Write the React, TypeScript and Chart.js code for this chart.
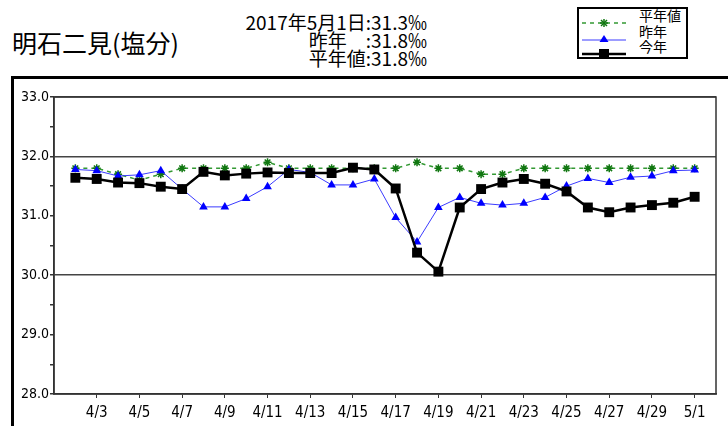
import React, { useEffect, useRef } from "react";
import { Chart, registerables } from "chart.js";

Chart.register(...registerables);

const dates = [
  "4/2", "4/3", "4/4", "4/5", "4/6", "4/7", "4/8", "4/9", "4/10", "4/11",
  "4/12", "4/13", "4/14", "4/15", "4/16", "4/17", "4/18", "4/19", "4/20", "4/21",
  "4/22", "4/23", "4/24", "4/25", "4/26", "4/27", "4/28", "4/29", "4/30", "5/1",
];
const thisYear = [
  31.64, 31.62, 31.56, 31.55, 31.49, 31.45, 31.74, 31.68, 31.71, 31.73,
  31.72, 31.72, 31.72, 31.81, 31.78, 31.46, 30.38, 30.06, 31.14, 31.45,
  31.56, 31.62, 31.54, 31.41, 31.14, 31.06, 31.14, 31.18, 31.22, 31.32,
];
const lastYear = [
  31.78, 31.76, 31.67, 31.69, 31.76, 31.45, 31.15, 31.15, 31.29, 31.49,
  31.78, 31.73, 31.52, 31.52, 31.62, 30.97, 30.56, 31.14, 31.31, 31.21,
  31.18, 31.21, 31.31, 31.5, 31.63, 31.56, 31.65, 31.67, 31.76, 31.77,
];
const normalYear = [
  31.8, 31.8, 31.7, 31.6, 31.7, 31.8, 31.8, 31.8, 31.8, 31.9,
  31.8, 31.8, 31.8, 31.8, 31.8, 31.8, 31.9, 31.8, 31.8, 31.7,
  31.7, 31.8, 31.8, 31.8, 31.8, 31.8, 31.8, 31.8, 31.8, 31.8,
];
const yTicksMajor = [28, 29, 30, 31, 32, 33];
const yGridLines = [30, 32, 33];

const TICK_FONT = "'Liberation Sans Narrow', 'DejaVu Sans Condensed', 'Liberation Sans', sans-serif";
const JP_FONT = "'Noto Sans CJK JP', sans-serif";

const frameBox = {
  id: "frameBox",
  afterDraw(chart: any) {
    const { ctx, chartArea } = chart;
    ctx.save();
    ctx.strokeStyle = "#333";
    ctx.lineWidth = 1.5;
    ctx.strokeRect(chartArea.left, chartArea.top, chartArea.right - chartArea.left, chartArea.bottom - chartArea.top);
    ctx.restore();
  },
};

function ChartCanvas() {
  const ref = useRef<HTMLCanvasElement>(null);
  useEffect(() => {
    if (!ref.current) return;
    const labels = ["", ...dates, ""];
    const pad = (a: number[]) => [null, ...a, null];
    const chart = new Chart(ref.current, {
      type: "line",
      data: {
        labels,
        datasets: [
          {
            label: "今年",
            data: pad(thisYear),
            borderColor: "#000",
            backgroundColor: "#000",
            borderWidth: 2.5,
            pointStyle: "rect",
            pointRadius: 7,
            pointBorderWidth: 0,
            pointBackgroundColor: "#000",
          },
          {
            label: "昨年",
            data: pad(lastYear),
            borderColor: "#3b3bff",
            backgroundColor: "#0000ff",
            borderWidth: 1,
            pointStyle: "triangle",
            pointRadius: 5,
            pointBorderWidth: 0,
            pointBackgroundColor: "#0000ff",
          },
          {
            label: "平年値",
            data: pad(normalYear),
            borderColor: "#339933",
            backgroundColor: "#117711",
            borderWidth: 1.5,
            borderDash: [4, 4],
            pointStyle: "star",
            pointRadius: 4,
            pointBorderWidth: 1.5,
            pointBorderColor: "#117711",
          },
        ],
      } as any,
      options: {
        animation: false,
        responsive: false,
        devicePixelRatio: 1,
        layout: { padding: { top: 97, right: 12, left: 0, bottom: 0 } },
        plugins: { legend: { display: false }, tooltip: { enabled: false } },
        scales: {
          x: {
            type: "category",
            offset: false,
            afterFit: (s: any) => { s.height = 32; },
            border: { display: true, color: "#333", width: 1.5 },
            grid: {
              drawOnChartArea: false,
              tickLength: 4,
              tickColor: (c: any) => (c.index >= 2 && c.index <= 30 && c.index % 2 === 0 ? "#333" : "rgba(0,0,0,0)"),
            },
            ticks: {
              autoSkip: false,
              maxRotation: 0,
              minRotation: 0,
              padding: 6,
              color: "#000",
              font: { family: TICK_FONT, size: 15 },
              callback: (_v: any, i: number) => (i >= 2 && i <= 30 && i % 2 === 0 ? labels[i] : ""),
            },
          },
          y: {
            min: 28,
            max: 33,
            afterFit: (s: any) => { s.width = 54; },
            border: { display: true, color: "#333", width: 1.5 },
            grid: {
              color: (c: any) => (c.tick && yGridLines.includes(c.tick.value) ? "#444" : "rgba(0,0,0,0)"),
              lineWidth: 1.5,
              tickLength: 4,
              tickColor: "#333",
            },
            ticks: {
              stepSize: 0.5,
              padding: 1,
              color: "#000",
              font: { family: TICK_FONT, size: 14 },
              callback: (v: any) => (yTicksMajor.includes(Number(v)) ? Number(v).toFixed(1) : ""),
            },
          },
        },
      } as any,
      plugins: [frameBox],
    });
    return () => chart.destroy();
  }, []);
  return <canvas ref={ref} width={728} height={426} style={{ position: "absolute", left: 0, top: 0 }} />;
}

function Sample({ kind }: { kind: string }) {
  if (kind === "normal") {
    return (
      <svg width={44} height={12}>
        <line x1={0} y1={6} x2={44} y2={6} stroke="#339933" strokeWidth={1.5} strokeDasharray="4 4" />
        <g stroke="#117711" strokeWidth={1.5}>
          <line x1={22} y1={2} x2={22} y2={10} />
          <line x1={18} y1={6} x2={26} y2={6} />
          <line x1={19} y1={3} x2={25} y2={9} />
          <line x1={19} y1={9} x2={25} y2={3} />
        </g>
      </svg>
    );
  }
  if (kind === "last") {
    return (
      <svg width={44} height={12}>
        <line x1={0} y1={7} x2={44} y2={7} stroke="#3b3bff" strokeWidth={1} />
        <polygon points="22,2 26.5,9 17.5,9" fill="#0000ff" />
      </svg>
    );
  }
  return (
    <svg width={44} height={12}>
      <line x1={0} y1={6} x2={44} y2={6} stroke="#000" strokeWidth={2.5} />
      <rect x={17} y={1} width={10} height={10} fill="#000" />
    </svg>
  );
}

export default function App() {
  const legendRows = [
    { kind: "normal", text: "平年値", y: 9 },
    { kind: "last", text: "昨年", y: 25 },
    { kind: "this", text: "今年", y: 40 },
  ];
  return (
    <div style={{ position: "absolute", left: 0, top: 0, width: 728, height: 426, background: "#fff", overflow: "hidden", fontFamily: JP_FONT }}>
      <div style={{ position: "absolute", left: 11, top: 76, width: 800, height: 400, borderLeft: "3px solid #000", borderTop: "3px solid #000" }} />
      <div style={{ position: "absolute", left: 12, top: 30, fontSize: 25, lineHeight: 1, whiteSpace: "nowrap", color: "#000" }}>明石二見(塩分)</div>
      <div style={{ position: "absolute", right: 301, top: 13, fontSize: 19, lineHeight: "18px", textAlign: "right", whiteSpace: "pre", color: "#000" }}>
        <div>2017年5月1日:31.3‰</div>
        <div>昨年　:31.8‰</div>
        <div>平年値:31.8‰</div>
      </div>
      <div style={{ position: "absolute", left: 577, top: 7, width: 107, height: 48, border: "2px solid #000" }} />
      {legendRows.map((r) => (
        <React.Fragment key={r.text}>
          <div style={{ position: "absolute", left: 582, top: r.y + 1 }}>
            <Sample kind={r.kind} />
          </div>
          <div style={{ position: "absolute", left: 639, top: r.y - 1, fontSize: 14, lineHeight: "15px", whiteSpace: "nowrap" }}>{r.text}</div>
        </React.Fragment>
      ))}
      <ChartCanvas />
    </div>
  );
}
